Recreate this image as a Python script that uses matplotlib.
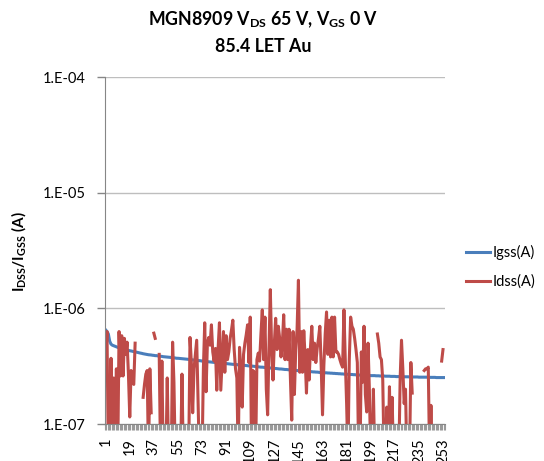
import numpy as np
import matplotlib
matplotlib.use('Agg')
import matplotlib.pyplot as plt

nan = float('nan')
UNIT = 1e-7  # values below are given in units of 1e-7 A

# Igss(A), one value per sample (units of 1e-7 A)
igss_e7 = [
    6.5, 6.3, 6.0, 5.2, 4.9, 4.8, 4.75, 4.7, 4.65, 4.6,
    4.55, 4.52, 4.48, 4.4, 4.42, 4.38, 4.35, 4.33, 4.3, 4.28,
    4.25, 4.22, 4.2, 4.18, 4.15, 4.12, 4.1, 4.08, 4.05, 4.03,
    4.01, 3.99, 3.97, 3.96, 3.95, 3.93, 3.92, 3.9, 3.9, 3.88,
    3.86, 3.85, 3.84, 3.82, 3.81, 3.8, 3.79, 3.78, 3.77, 3.76,
    3.74, 3.73, 3.72, 3.7, 3.7, 3.69, 3.68, 3.67, 3.66, 3.65,
    3.64, 3.63, 3.62, 3.6, 3.6, 3.58, 3.57, 3.56, 3.55, 3.54,
    3.53, 3.52, 3.5, 3.5, 3.48, 3.47, 3.46, 3.45, 3.44, 3.43,
    3.42, 3.41, 3.4, 3.39, 3.38, 3.37, 3.36, 3.36, 3.35, 3.34,
    3.33, 3.32, 3.31, 3.3, 3.29, 3.28, 3.28, 3.27, 3.26, 3.25,
    3.24, 3.23, 3.22, 3.22, 3.21, 3.2, 3.19, 3.18, 3.18, 3.17,
    3.16, 3.15, 3.14, 3.13, 3.12, 3.11, 3.1, 3.1, 3.09, 3.08,
    3.07, 3.06, 3.06, 3.05, 3.04, 3.03, 3.02, 3.02, 3.01, 3.0,
    2.99, 2.99, 2.98, 2.97, 2.96, 2.96, 2.95, 2.94, 2.94, 2.93,
    2.92, 2.91, 2.91, 2.9, 2.89, 2.89, 2.88, 2.87, 2.87, 2.86,
    2.85, 2.85, 2.84, 2.84, 2.83, 2.82, 2.82, 2.81, 2.81, 2.8,
    2.79, 2.79, 2.78, 2.78, 2.77, 2.77, 2.76, 2.76, 2.75, 2.75,
    2.74, 2.74, 2.73, 2.73, 2.72, 2.72, 2.71, 2.71, 2.7, 2.7,
    2.69, 2.69, 2.68, 2.68, 2.68, 2.67, 2.67, 2.66, 2.66, 2.65,
    2.65, 2.65, 2.64, 2.64, 2.63, 2.63, 2.63, 2.62, 2.62, 2.62,
    2.62, 2.62, 2.61, 2.61, 2.61, 2.6, 2.6, 2.6, 2.6, 2.59,
    2.59, 2.59, 2.59, 2.58, 2.58, 2.58, 2.58, 2.57, 2.57, 2.57,
    2.57, 2.57, 2.56, 2.56, 2.56, 2.56, 2.56, 2.55, 2.55, 2.55,
    2.55, 2.55, 2.55, 2.55, 2.54, 2.54, 2.54, 2.54, 2.54, 2.54,
    2.54, 2.53, 2.53, 2.53, 2.53, 2.53, 2.53, 2.52, 2.52, 2.52,
    2.52, 2.52, 2.52, 2.52,
]

# Idss(A) (units of 1e-7 A); 0.5 = below the axis floor, nan = missing
idss_e7 = [
    3.7, 6.3, 0.5, 0.5, 3.7, 0.5, 2.5, 0.5, 3.0, 0.5,
    6.3, 2.6, 5.8, 2.6, 5.5, 4.0, 5.1, 2.7, 1.15, 2.9,
    2.3, 2.2, 5.0, nan, nan, nan, nan, nan, 1.7, 2.2,
    2.7, 2.9, 0.5, 3.0, 1.25, nan, 6.1, 5.5, nan, nan,
    4.0, 0.5, 3.5, 0.5, 0.5, 0.5, 2.5, 0.5, 0.5, 0.5,
    5.1, 2.3, 0.5, 0.5, 0.5, 0.5, 0.5, 2.7, 0.5, 0.5,
    0.5, 0.5, 0.5, 5.6, 3.4, 1.25, 3.0, 4.0, 5.3, 1.55,
    0.5, 0.5, 0.5, 3.0, 7.5, 1.9, 5.0, 5.6, 4.8, 7.2,
    4.2, 3.5, 4.5, 1.96, 4.5, 7.5, 1.96, 3.6, 6.3, 2.8,
    5.8, 3.6, 4.2, 5.5, 6.5, 7.9, 4.4, 3.0, 2.5, 0.5,
    4.6, 3.0, 1.4, 4.0, 5.0, 5.9, 7.2, 3.4, 8.4, 0.5,
    2.9, 2.8, 0.5, 3.6, 4.1, 3.5, 6.0, 9.7, 3.6, 8.4,
    2.0, 1.2, 4.5, 14.5, 4.4, 2.4, 5.0, 8.2, 4.4, 7.0,
    5.5, 3.8, 5.0, 8.8, 3.6, 6.6, 3.6, 6.6, 2.5, 1.08,
    6.3, 1.8, 4.4, 6.6, 17.5, 2.8, 6.3, 2.8, 6.4, 3.8,
    1.85, 4.4, 2.4, 4.6, 7.0, 3.6, 5.0, 3.4, 4.5, 5.5,
    7.0, 3.2, 1.2, 3.2, 6.0, 9.3, 4.0, 7.9, 3.8, 8.4,
    3.8, 8.4, 4.2, 4.2, 4.0, 3.6, 3.3, 3.1, 9.7, 3.6,
    1.5, 0.5, 3.6, 8.4, 7.0, 6.6, 5.5, 4.4, 3.4, 0.5,
    0.5, 4.2, 2.3, 7.0, 1.8, 1.27, 5.0, 2.0, 0.5, 0.5,
    2.0, 0.5, nan, 6.0, 5.0, 3.8, 3.6, 2.4, 0.5, 0.5,
    1.4, 0.5, 2.1, 0.5, 1.7, 0.5, 0.5, 0.5, 0.5, 0.5,
    2.5, 5.3, 3.0, 1.5, 2.0, 0.5, 0.5, 0.5, 3.4, 1.85,
    nan, nan, nan, nan, nan, nan, nan, nan, 2.9, 3.0,
    3.0, 3.1, 0.5, 1.45, 0.5, nan, nan, nan, nan, nan,
    nan, 3.5, 4.4, nan,
]

x_tick_labels = ['1', '19', '37', '55', '73', '91', '109', '127', '145',
                 '163', '181', '199', '217', '235', '253']
y_tick_values = [1e-7, 1e-6, 1e-5, 1e-4]
y_tick_labels = ['1.E-07', '1.E-06', '1.E-05', '1.E-04']
series_names = ['Igss(A)', 'Idss(A)']

FONT = 'Lato'
plt.rcParams['font.family'] = [FONT, 'DejaVu Sans']
plt.rcParams['mathtext.fontset'] = 'custom'
plt.rcParams['mathtext.rm'] = FONT
plt.rcParams['mathtext.bf'] = FONT + ':bold'
plt.rcParams['mathtext.it'] = FONT + ':italic'

W, H = 544, 461
fig = plt.figure(figsize=(W / 100, H / 100), dpi=100)
L, R, T, B = 105, 445, 77, 424
ax = fig.add_axes([L / W, 1 - B / H, (R - L) / W, (B - T) / H])

n = len(igss_e7)
cats = np.arange(1, n + 1)
igss = np.array(igss_e7) * UNIT
idss = np.array(idss_e7) * UNIT

blue = '#4A7EBB'
red = '#BE4B48'
ax.plot(cats, igss, color=blue, lw=2.2, label=series_names[0], solid_joinstyle='round')
ax.plot(cats, idss, color=red, lw=2.2, label=series_names[1], solid_joinstyle='round')

ax.set_yscale('log')
ax.set_ylim(1e-7, 1e-4)
ax.set_xlim(0.5, n + 0.5)
ax.yaxis.set_minor_locator(matplotlib.ticker.NullLocator())
ax.set_yticks(y_tick_values)
ax.set_yticklabels(y_tick_labels)
ax.grid(axis='y', color='#BEBEBE', lw=1.0)
ax.set_axisbelow(True)

label_pos = [int(s) for s in x_tick_labels]
ax.set_xticks(label_pos)
ax.set_xticklabels(x_tick_labels, rotation=90)
ax.set_xticks(np.arange(0.5, n + 1, 1.0), minor=True)
ax.tick_params(axis='x', which='major', length=0, pad=10, labelsize=10.5, colors='black')
ax.tick_params(axis='x', which='minor', length=4, width=0.8, color='#9A9A9A', direction='out')
ax.tick_params(axis='y', which='major', length=6, width=1.0, color='#868686', pad=8, labelsize=10.5)

for s in ['top', 'right']:
    ax.spines[s].set_visible(False)
ax.spines['left'].set_color('#868686')
ax.spines['bottom'].set_color('#868686')

fig.text(263 / W, 1 - 25 / H, r'MGN8909 V$_{\mathbf{DS}}$ 65 V, V$_{\mathbf{GS}}$ 0 V',
         ha='center', va='baseline', fontsize=12.8, fontweight='bold')
fig.text(263 / W, 1 - 51.5 / H, '85.4 LET Au',
         ha='center', va='baseline', fontsize=12.8, fontweight='bold')
fig.text(18.5 / W, 1 - 252 / H, r'I$_{\mathbf{DSS}}$/I$_{\mathbf{GSS}}$ (A)',
         ha='center', va='center', rotation=90, fontsize=11, fontweight='bold')

fig.legend(loc='center left', bbox_to_anchor=(466 / W, 1 - 267 / H), frameon=False,
           borderpad=0, borderaxespad=0, handlelength=1.65, handletextpad=0.15,
           labelspacing=0.95, fontsize=10.5)

fig.savefig('out.png', dpi=100)
